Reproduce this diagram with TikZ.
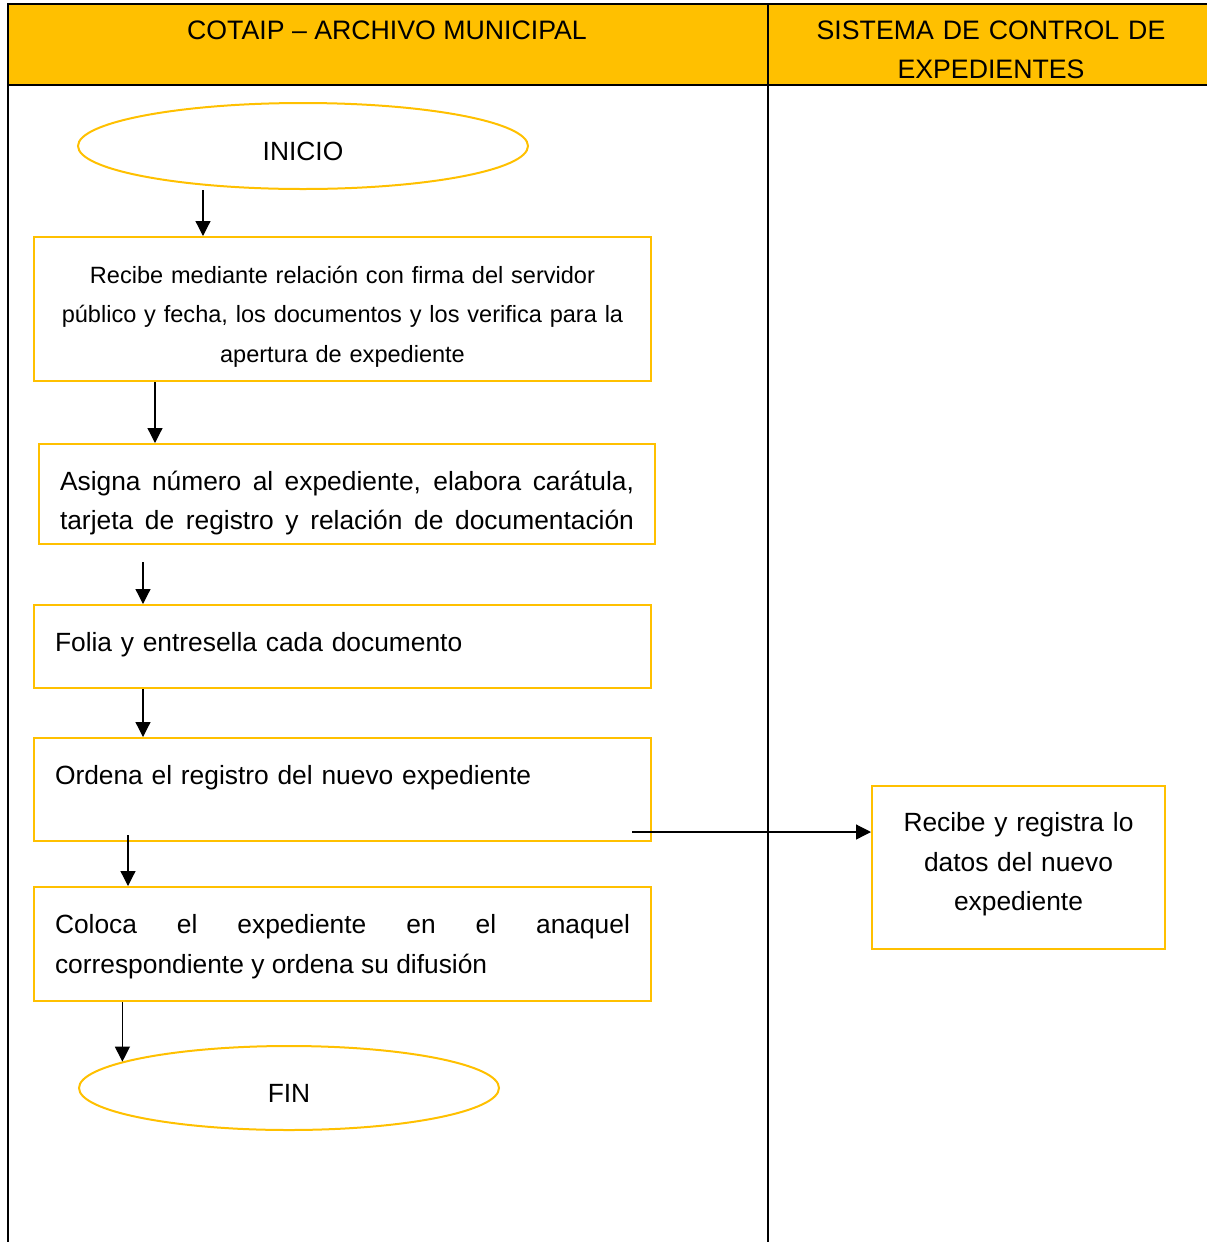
\documentclass[tikz,border=0pt]{standalone}
\usepackage{fontspec}
\setmainfont{Liberation Sans}
\usetikzlibrary{arrows.meta,shapes.geometric,positioning}
\definecolor{cotaipyellow}{RGB}{255,192,0}
\newlength\px
\setlength\px{0.02cm}
\newcommand{\bodyfont}{\fontsize{15}{22.76}\selectfont}
\newcommand{\smallbodyfont}{\fontsize{13.4}{22.76}\selectfont}
\newcommand{\headfont}{\fontsize{15.2}{22.2}\selectfont}
\tikzstyle{process} = [rectangle, draw=cotaipyellow, line width=2\px, anchor=north west, inner xsep=21\px, inner ysep=0pt, text width=575\px, text height=46\px, font=\bodyfont]
\tikzstyle{startstop} = [ellipse, draw=cotaipyellow, line width=2\px, inner sep=0pt, text height=28\px, text depth=0pt, font=\bodyfont]
\tikzstyle{arrow} = [line width=0.7pt, -{Triangle[length=0.3cm, width=0.3cm]}]
\tikzstyle{lane} = [line width=2\px, black]
\tikzstyle{headtext} = [anchor=base, inner sep=0pt, font=\headfont]

\begin{document}
\begin{tikzpicture}[x=0.02cm, y=-0.02cm]
\useasboundingbox (0,0) rectangle (1207,1242);
% Lanes
\fill[cotaipyellow] (8,4) rectangle (1207,85);
\draw[lane] (8,1242) -- (8,4) -- (1207,4);
\draw[lane] (8,85) -- (1207,85);
\draw[lane] (768,4) -- (768,1242);
\node (lane1) [headtext] at (387,39) {COTAIP – ARCHIVO MUNICIPAL};
\node (lane2) [headtext, text width=400\px, align=center] at (991,39) {SISTEMA DE CONTROL DE\\ EXPEDIENTES};

% Flow nodes
\node (inicio) [startstop, minimum width=450\px, minimum height=86\px] at (303,146) {INICIO};
\node (recibe) [process, font=\smallbodyfont, align=center, text depth=98\px] at (33,236) {Recibe mediante relación con firma del servidor\\ público y fecha, los documentos y los verifica para la\\ apertura de expediente};
\node (asigna) [process, align=justify, text width=574\px, text depth=54\px] at (38,443) {\parfillskip=0pt Asigna número al expediente, elabora carátula,\linebreak tarjeta de registro y relación de documentación\par};
\node (folia) [process, align=left, text depth=37\px] at (33,604) {Folia y entresella cada documento};
\node (ordena) [process, align=left, text depth=57\px] at (33,737) {Ordena el registro del nuevo expediente};
\node (coloca) [process, align=justify, text depth=68\px] at (33,886) {Coloca el expediente en el anaquel\linebreak correspondiente y ordena su difusión};
\node (fin) [startstop, minimum width=420\px, minimum height=84\px] at (289,1088) {FIN};
\node (registra) [process, align=center, text width=251\px, text height=45\px, text depth=118\px] at (871,785) {Recibe y registra lo\\ datos del nuevo\\ expediente};

% Arrows
\draw[arrow] (inicio.south -| 203,0) -- (recibe.north -| 203,0);
\draw[arrow] (recibe.south -| 155,0) -- (asigna.north -| 155,0);
\draw[arrow] ([yshift=-17\px]asigna.south -| 143,0) -- (folia.north -| 143,0);
\draw[arrow] (folia.south -| 143,0) -- (ordena.north -| 143,0);
\draw[arrow] ([yshift=7\px]ordena.south -| 128,0) -- (coloca.north -| 128,0);
\draw[arrow] (coloca.south -| fin.171) -- (fin.171);
\draw[arrow] ([xshift=-20\px]ordena.east |- 0,832) -- (registra.west |- 0,832);
\end{tikzpicture}
\end{document}
